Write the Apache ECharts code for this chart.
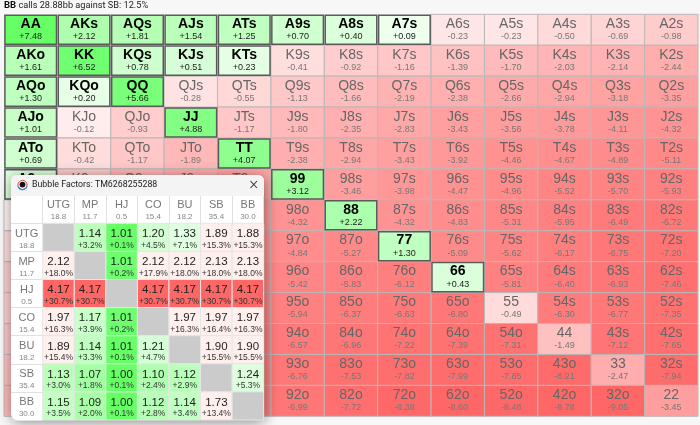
<!DOCTYPE html>
<html><head><meta charset="utf-8">
<style>html,body{margin:0;padding:0;background:#f7f7f7}#c{width:700px;height:425px}</style>
<script src="https://cdn.jsdelivr.net/npm/echarts@6/dist/echarts.min.js"></script>
</head><body><div id="c"></div>
<script>
// Hand matrix: EV per hand, row by row (upper triangle suited, lower offsuit)
const ranks = ['A','K','Q','J','T','9','8','7','6','5','4','3','2'];
// values under the popup (first five columns of rows 9..2) are estimated
const rowA = [7.48,2.12,1.81,1.54,1.25,0.70,0.40,0.09,-0.23,-0.23,-0.50,-0.69,-0.98];
const rowK = [1.61,6.52,0.78,0.51,0.23,-0.41,-0.92,-1.16,-1.39,-1.70,-2.03,-2.14,-2.44];
const rowQ = [1.30,0.20,5.66,-0.28,-0.55,-1.13,-1.66,-2.19,-2.38,-2.66,-2.94,-3.18,-3.35];
const rowJ = [1.01,-0.12,-0.93,4.88,-1.17,-1.80,-2.35,-2.83,-3.43,-3.56,-3.78,-4.11,-4.32];
const rowT = [0.69,-0.42,-1.17,-1.89,4.07,-2.38,-2.94,-3.43,-3.92,-4.46,-4.67,-4.89,-5.11];
const row9 = [0.33,-1.05,-1.90,-2.40,-2.90,3.12,-3.46,-3.98,-4.47,-4.96,-5.52,-5.70,-5.93];
const row8 = [-0.05,-1.60,-2.60,-3.10,-3.60,-4.32,2.22,-4.32,-4.83,-5.31,-5.95,-6.49,-6.72];
const row7 = [-0.40,-1.90,-3.00,-3.60,-4.20,-4.84,-5.27,1.30,-5.09,-5.62,-6.17,-6.75,-7.20];
const row6 = [-0.90,-2.20,-3.30,-4.30,-4.70,-5.42,-5.83,-6.12,0.43,-5.81,-6.40,-6.93,-7.46];
const row5 = [-0.85,-2.60,-3.60,-4.60,-5.20,-5.94,-6.37,-6.63,-6.80,-0.49,-6.30,-6.77,-7.35];
const row4 = [-1.20,-3.00,-3.90,-4.90,-5.50,-6.57,-6.96,-7.22,-7.39,-7.31,-1.49,-7.12,-7.65];
const row3 = [-1.50,-3.20,-4.20,-5.20,-5.80,-6.76,-7.53,-7.82,-7.99,-7.85,-8.21,-2.47,-7.94];
const row2 = [-1.80,-3.50,-4.40,-5.40,-6.00,-6.99,-7.72,-8.38,-8.60,-8.46,-8.78,-9.05,-3.45];
const handRows = [rowA,rowK,rowQ,rowJ,rowT,row9,row8,row7,row6,row5,row4,row3,row2];

// Bubble factors matrix
const players = ['UTG','MP','HJ','CO','BU','SB','BB'];
const stacks = ['18.8','11.7','0.5','15.4','18.2','35.4','30.0'];
const bfUTG = [null,1.14,1.01,1.20,1.33,1.89,1.88];
const pcUTG = [null,3.2,0.1,4.5,7.1,15.3,15.3];
const bfMP = [2.12,null,1.01,2.12,2.12,2.13,2.13];
const pcMP = [18.0,null,0.2,17.9,18.0,18.0,18.0];
const bfHJ = [4.17,4.17,null,4.17,4.17,4.17,4.17];
const pcHJ = [30.7,30.7,null,30.7,30.7,30.7,30.7];
const bfCO = [1.97,1.17,1.01,null,1.97,1.97,1.97];
const pcCO = [16.3,3.9,0.2,null,16.3,16.4,16.3];
const bfBU = [1.89,1.14,1.01,1.21,null,1.90,1.90];
const pcBU = [15.4,3.3,0.1,4.7,null,15.5,15.5];
const bfSB = [1.13,1.07,1.00,1.10,1.12,null,1.24];
const pcSB = [3.0,1.8,0.1,2.4,2.9,null,5.3];
const bfBB = [1.15,1.09,1.00,1.12,1.14,1.73,null];
const pcBB = [3.5,2.0,0.1,2.8,3.4,13.4,null];
const bfRows = [bfUTG,bfMP,bfHJ,bfCO,bfBU,bfSB,bfBB];
const pcRows = [pcUTG,pcMP,pcHJ,pcCO,pcBU,pcSB,pcBB];

const FONT = '"Liberation Sans", Arial, sans-serif';
const UI = 'Roboto, sans-serif';

function handName(r,c){
  if(r===c) return ranks[r]+ranks[c];
  return r<c ? ranks[r]+ranks[c]+'s' : ranks[c]+ranks[r]+'o';
}
function evColor(v){
  const off = Math.min(153, (v>0?56:52)*Math.sqrt(Math.abs(v)));
  const k = Math.round(255-off);
  return v>0 ? `rgb(${k},255,${k})` : `rgb(255,${k},${k})`;
}
function pctColor(p){
  if(p<10){
    const off = Math.max(0, Math.min(122, 60*Math.sqrt(p)-19));
    const k = Math.round(102+off);
    return `rgb(${k},255,${k})`;
  }
  if(p<=18.1) return '#fff0ee';
  const g = Math.round(240-(p-18)/12.7*138);
  return `rgb(255,${g},${g})`;
}

const handData = [];
handRows.forEach((row,r)=>row.forEach((v,c)=>handData.push([c,r,v,handName(r,c)])));
handData.sort((a,b)=>(a[2]>0)-(b[2]>0));

const bfData = [];
bfRows.forEach((row,r)=>row.forEach((v,c)=>bfData.push([c,r,v,pcRows[r][c]])));

function renderHand(params,api){
  const d = handData[params.dataIndex];
  const p = api.coord([d[0],d[1]]), s = api.size([1,1]);
  const v = d[2], pos = v>0;
  const inset = pos?0.9:0;
  const x = p[0]-s[0]/2+inset, y = p[1]-s[1]/2+inset;
  return {type:'group',children:[
    {type:'rect',shape:{x,y,width:s[0]-2*inset,height:s[1]-2*inset},
     style:{fill:evColor(v),stroke:pos?'#5a5a5a':'#bdb6b6',lineWidth:pos?1.5:1}},
    {type:'text',style:{x:p[0],y:p[1]-5.6,text:d[3],align:'center',verticalAlign:'middle',
      font:(pos?'bold ':'')+'14px '+FONT,fill:pos?'#000':'#666'}},
    {type:'text',style:{x:p[0],y:p[1]+6.9,text:(pos?'+':'')+v.toFixed(2),align:'center',verticalAlign:'middle',
      font:'9px '+FONT,fill:pos?'#222':'#777'}}
  ]};
}
function renderBf(params,api){
  const d = bfData[params.dataIndex];
  const p = api.coord([d[0],d[1]]), s = api.size([1,1]);
  const rect = {type:'rect',shape:{x:p[0]-s[0]/2,y:p[1]-s[1]/2,width:s[0],height:s[1]},
    style:{fill:d[2]===null?'#cbcbcb':pctColor(d[3]),stroke:'#e6e6e6',lineWidth:1}};
  if(d[2]===null) return rect;
  return {type:'group',children:[rect,
    {type:'text',style:{x:p[0],y:p[1]-3.4,text:d[2].toFixed(2),align:'center',verticalAlign:'middle',
      font:'11.5px '+FONT,fill:'#222'}},
    {type:'text',style:{x:p[0],y:p[1]+8,text:'+'+d[3].toFixed(1)+'%',align:'center',verticalAlign:'middle',
      font:'8.5px '+FONT,fill:'#333'}}
  ]};
}

const headLabel = {
  formatter:(val,i)=>`{a|${val}}\n{b|${stacks[i]}}`,
  rich:{a:{fontFamily:FONT,fontSize:11,color:'#777',lineHeight:12,align:'center'},
        b:{fontFamily:FONT,fontSize:8,color:'#888',lineHeight:11,align:'center'}}
};

const chart = echarts.init(document.getElementById('c'),null,{renderer:'canvas',width:700,height:425});
chart.setOption({
  animation:false,
  backgroundColor:'#f7f7f7',
  title:{left:4,top:0,padding:0,
    text:'{b|BB}{n| calls 28.88bb against SB: 12.5%}',
    textStyle:{fontWeight:'normal',rich:{b:{fontFamily:UI,fontSize:9.5,fontWeight:'bold',color:'#111',lineHeight:12},
                     n:{fontFamily:UI,fontSize:9.2,fontWeight:'normal',color:'#222',lineHeight:12}}}},
  grid:[
    {left:4,top:14.3,width:694,height:402,containLabel:false},
    {left:42.7,top:223.3,width:221,height:196.7,containLabel:false}
  ],
  xAxis:[
    {gridIndex:0,type:'category',data:ranks,show:false},
    {gridIndex:1,type:'category',data:players,position:'top',z:12,
     axisLine:{show:false},axisTick:{show:true,alignWithLabel:false,length:27.3,lineStyle:{color:'#e0e0e0',width:1}},
     axisLabel:Object.assign({interval:0,margin:1},headLabel)}
  ],
  yAxis:[
    {gridIndex:0,type:'category',data:ranks,inverse:true,show:false},
    {gridIndex:1,type:'category',data:players,inverse:true,z:12,
     axisLine:{show:false},axisTick:{show:true,alignWithLabel:false,length:31.7,lineStyle:{color:'#e0e0e0',width:1}},
     axisLabel:Object.assign({interval:0,margin:16,align:'center',padding:[4,0,0,0]},headLabel)}
  ],
  series:[
    {type:'custom',xAxisIndex:0,yAxisIndex:0,z:2,clip:false,silent:true,data:handData.map(d=>[d[0],d[1],d[2]]),
     encode:{x:0,y:1},renderItem:renderHand},
    {type:'custom',xAxisIndex:1,yAxisIndex:1,z:10,clip:false,silent:true,data:bfData.map(d=>[d[0],d[1],d[2]===null?0:d[2]]),
     encode:{x:0,y:1},renderItem:renderBf}
  ],
  graphic:{elements:[
    {type:'rect',z:5,shape:{x:11,y:175,width:253,height:245,r:6},
     style:{fill:'#fff',shadowBlur:14,shadowColor:'rgba(0,0,0,0.45)',shadowOffsetX:1,shadowOffsetY:2}},
    {type:'rect',z:6,shape:{x:11,y:175,width:253,height:21,r:[6,6,0,0]},style:{fill:'#f4f4f4'}},
    {type:'rect',z:6,shape:{x:11,y:196,width:253,height:27.3},style:{fill:'#fff'}},
    {type:'circle',z:7,shape:{cx:22.5,cy:185,r:4.6},style:{fill:'#fff',stroke:'#d04040',lineWidth:1}},
    {type:'arc',z:7,shape:{cx:22.5,cy:185,r:4.6,startAngle:0.3,endAngle:2.8},style:{fill:'none',stroke:'#3a78d0',lineWidth:1.2}},
    {type:'circle',z:7,shape:{cx:22.5,cy:184.6,r:2.9},style:{fill:'#111'}},
    {type:'text',z:7,style:{x:32,y:185,text:'Bubble Factors: TM6268255288',verticalAlign:'middle',
      font:'8.8px '+UI,fill:'#222'}},
    {type:'line',z:7,shape:{x1:250.5,y1:181,x2:257,y2:188},style:{stroke:'#333',lineWidth:1.1}},
    {type:'line',z:7,shape:{x1:257,y1:181,x2:250.5,y2:188},style:{stroke:'#333',lineWidth:1.1}}
  ]}
});
</script>
</body></html>
